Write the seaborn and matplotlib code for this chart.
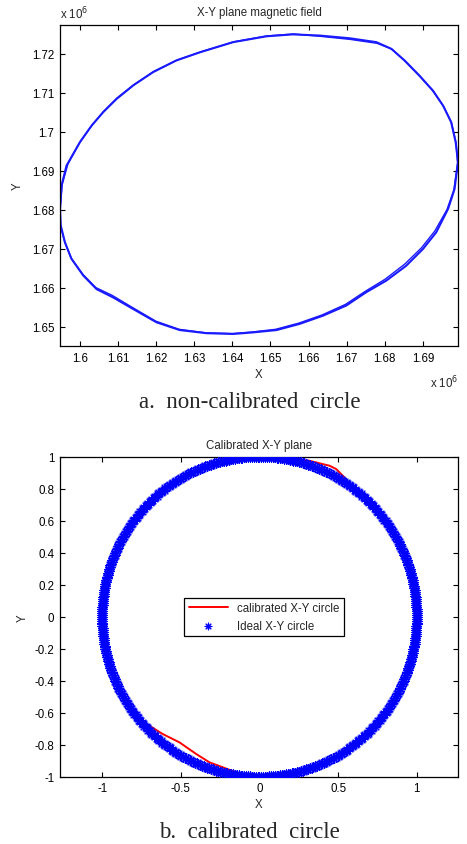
import numpy as np
import pandas as pd
import matplotlib
matplotlib.use("Agg")
import matplotlib.pyplot as plt
import seaborn as sns
from matplotlib.ticker import FuncFormatter

# ---------------- data (top: raw magnetometer X-Y, units of 1e6) ----------------
raw_x_lap1 = [1.5948, 1.5952, 1.5965, 1.6000, 1.6031, 1.6061, 1.6096, 1.6140, 1.6192, 1.6253,
              1.6315, 1.6402, 1.6489, 1.6559, 1.6629, 1.6708, 1.6778, 1.6817, 1.6852, 1.6891,
              1.6926, 1.6953, 1.6974, 1.6986, 1.6992, 1.6983, 1.6966, 1.6935, 1.6900, 1.6856,
              1.6804, 1.6751, 1.6699, 1.6638, 1.6577, 1.6516, 1.6454, 1.6402, 1.6332, 1.6262,
              1.6201, 1.6140, 1.6087, 1.6044, 1.6009, 1.5978, 1.5961, 1.5950, 1.5948]
raw_y_lap1 = [1.6800, 1.6862, 1.6913, 1.6973, 1.7016, 1.7050, 1.7084, 1.7119, 1.7153, 1.7183,
              1.7204, 1.7230, 1.7245, 1.7250, 1.7247, 1.7240, 1.7230, 1.7213, 1.7183, 1.7144,
              1.7106, 1.7067, 1.7025, 1.6973, 1.6922, 1.6853, 1.6802, 1.6742, 1.6699, 1.6656,
              1.6618, 1.6588, 1.6554, 1.6528, 1.6507, 1.6491, 1.6485, 1.6481, 1.6483, 1.6491,
              1.6511, 1.6545, 1.6575, 1.6596, 1.6631, 1.6674, 1.6716, 1.6759, 1.6800]
raw_x_lap2 = [1.5948, 1.5954, 1.5969, 1.6002, 1.6033, 1.6063, 1.6098, 1.6142, 1.6194, 1.6255,
              1.6317, 1.6404, 1.6491, 1.6561, 1.6631, 1.6710, 1.6780, 1.6819, 1.6853, 1.6892,
              1.6927, 1.6954, 1.6975, 1.6987, 1.6991, 1.6981, 1.6963, 1.6931, 1.6896, 1.6852,
              1.6800, 1.6748, 1.6697, 1.6636, 1.6575, 1.6514, 1.6452, 1.6400, 1.6330, 1.6260,
              1.6199, 1.6138, 1.6085, 1.6042, 1.6008, 1.5977, 1.5960, 1.5949, 1.5948]
raw_y_lap2 = [1.6800, 1.6866, 1.6918, 1.6976, 1.7018, 1.7053, 1.7087, 1.7121, 1.7155, 1.7184,
              1.7205, 1.7231, 1.7246, 1.7251, 1.7245, 1.7237, 1.7227, 1.7212, 1.7181, 1.7142,
              1.7104, 1.7065, 1.7023, 1.6971, 1.6920, 1.6850, 1.6800, 1.6745, 1.6702, 1.6660,
              1.6621, 1.6590, 1.6557, 1.6530, 1.6509, 1.6493, 1.6486, 1.6482, 1.6484, 1.6493,
              1.6514, 1.6549, 1.6580, 1.6600, 1.6634, 1.6676, 1.6718, 1.6760, 1.6800]

# ---------------- data (bottom: calibrated circle) ----------------
cal_x = [1.00, 0.98, 0.93, 0.86, 0.77, 0.66, 0.60, 0.54, 0.519, 0.488, 0.445, 0.402, 0.318,
         0.20, 0.05, -0.10, -0.25, -0.40, -0.55, -0.68, -0.80, -0.89, -0.95, -0.99, -1.00,
         -0.98, -0.94, -0.88, -0.81, -0.763, -0.70, -0.615, -0.509, -0.402, -0.318, -0.233,
         -0.10, 0.05, 0.20, 0.35, 0.50, 0.63, 0.75, 0.85, 0.93, 0.98, 1.00]
cal_y = [0.00, 0.20, 0.37, 0.51, 0.64, 0.75, 0.80, 0.871, 0.892, 0.923, 0.944, 0.954, 0.975,
         0.982, 0.995, 0.99, 0.965, 0.915, 0.83, 0.73, 0.60, 0.45, 0.30, 0.12, -0.05,
         -0.20, -0.34, -0.47, -0.58, -0.639, -0.681, -0.733, -0.785, -0.858, -0.91, -0.941,
         -0.99, -0.995, -0.975, -0.935, -0.86, -0.77, -0.66, -0.52, -0.36, -0.19, 0.00]

ideal_radius = 1.0
ideal_n_points = 520

top_xticks = [1.60, 1.61, 1.62, 1.63, 1.64, 1.65, 1.66, 1.67, 1.68, 1.69]
top_yticks = [1.65, 1.66, 1.67, 1.68, 1.69, 1.70, 1.71, 1.72]
bot_xticks = [-1, -0.5, 0, 0.5, 1]
bot_yticks = [-1, -0.8, -0.6, -0.4, -0.2, 0, 0.2, 0.4, 0.6, 0.8, 1]

# ---------------- style ----------------
sns.set_theme(style="white")
plt.rcParams["font.family"] = ["Liberation Sans", "DejaVu Sans"]
plt.rcParams["axes.edgecolor"] = "black"
plt.rcParams["axes.linewidth"] = 0.9

fig = plt.figure(figsize=(4.67, 8.45), dpi=100)
ax1 = fig.add_axes([0.1285, 0.5893, 0.8522, 0.3799])
ax2 = fig.add_axes([0.1285, 0.0796, 0.8522, 0.3787])

FS = 8.3

def gfmt(v, pos):
    return "%g" % round(v, 6)

def style_axes(ax):
    ax.tick_params(axis="both", which="both", direction="in", top=True, right=True,
                   bottom=True, left=True, length=3.5, width=0.8, labelsize=FS,
                   colors="black", pad=4)
    ax.xaxis.set_major_formatter(FuncFormatter(gfmt))
    ax.yaxis.set_major_formatter(FuncFormatter(gfmt))
    for s in ax.spines.values():
        s.set_color("black")
        s.set_linewidth(0.9)
    ax.grid(False)

# ---- top plot ----
df1 = pd.DataFrame({"x": raw_x_lap1, "y": raw_y_lap1})
df2 = pd.DataFrame({"x": raw_x_lap2, "y": raw_y_lap2})
sns.lineplot(data=df1, x="x", y="y", sort=False, color="#1a1aff", linewidth=1.5, ax=ax1, estimator=None)
sns.lineplot(data=df2, x="x", y="y", sort=False, color="#1a1aff", linewidth=1.0, ax=ax1, estimator=None)
ax1.set_xlim(1.5948, 1.6992)
ax1.set_ylim(1.6450, 1.7274)
ax1.set_xticks(top_xticks)
ax1.set_yticks(top_yticks)
style_axes(ax1)
ax1.set_xlabel("X", fontsize=FS, labelpad=3)
ax1.set_ylabel("Y", fontsize=FS, labelpad=6)
ax1.set_title("X-Y plane magnetic field", fontsize=FS, pad=7)
ax1.text(0.0, 1.036, r"x 10$^6$", transform=ax1.transAxes, fontsize=FS, ha="left", va="center")
ax1.text(1.0, -0.085, r"x 10$^6$", transform=ax1.transAxes, fontsize=FS, ha="right", va="top")

# ---- bottom plot ----
theta = np.linspace(0, 2 * np.pi, ideal_n_points, endpoint=False)
ideal_df = pd.DataFrame({"x": ideal_radius * np.cos(theta), "y": ideal_radius * np.sin(theta)})
cal_df = pd.DataFrame({"x": cal_x, "y": cal_y})
sns.lineplot(data=cal_df, x="x", y="y", sort=False, estimator=None, color="red",
             linewidth=1.4, ax=ax2, label="calibrated X-Y circle", zorder=2)
sns.scatterplot(data=ideal_df, x="x", y="y", marker=(8, 2, 0), s=48, color="blue",
                linewidth=0.8, ax=ax2, label="Ideal X-Y circle", zorder=3)
ax2.set_xlim(-1.268, 1.262)
ax2.set_ylim(-1, 1)
ax2.set_xticks(bot_xticks)
ax2.set_yticks(bot_yticks)
style_axes(ax2)
ax2.set_xlabel("X", fontsize=FS, labelpad=3)
ax2.set_ylabel("Y", fontsize=FS, labelpad=4)
ax2.set_title("Calibrated X-Y plane", fontsize=FS, pad=6)
leg = ax2.legend(loc="center", bbox_to_anchor=(0.513, 0.499), fontsize=FS, frameon=True,
                 fancybox=False, edgecolor="black", framealpha=1, handlelength=3.4,
                 borderpad=0.4, labelspacing=0.45, handletextpad=0.8, markerscale=0.7)
leg.get_frame().set_linewidth(0.9)
leg.set_zorder(5)

# ---- captions ----
fig.text(0.535, 1 - 403 / 845, "a.  non-calibrated  circle", fontsize=16.5,
         family=["Liberation Serif", "DejaVu Serif"], ha="center", va="center")
fig.text(0.535, 1 - 833 / 845, "b.  calibrated  circle", fontsize=16.5,
         family=["Liberation Serif", "DejaVu Serif"], ha="center", va="center")

fig.savefig("out.png", dpi=100, facecolor="white")
